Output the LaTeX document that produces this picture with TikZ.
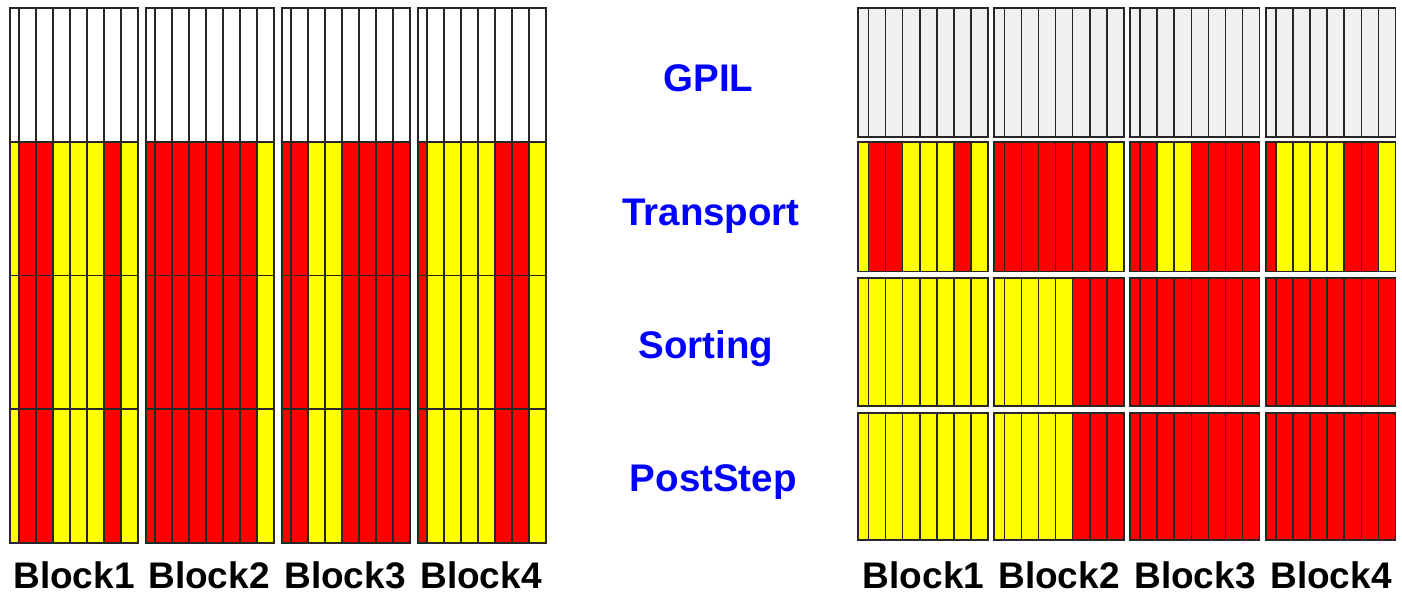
\documentclass[tikz,border=0pt]{standalone}
\usepackage{fontspec}
\setmainfont{Liberation Sans}
\definecolor{cR}{HTML}{FF0000}
\definecolor{cY}{HTML}{FFFF00}
\definecolor{cW}{HTML}{FFFFFF}
\definecolor{cG}{HTML}{F0F0F0}
\definecolor{lineC}{HTML}{262626}
\definecolor{stageC}{HTML}{0000FF}

% one row of a block: #1 left x, #2 top y, #3 bottom y,
% #4 width of the narrow first column, #5 width of the other columns, #6 fills
\newcommand\stripeRow[6]{%
  \edef\rowfills{#6}%
  \foreach \c [count=\k from 0] in \rowfills {%
    \pgfmathsetmacro\xa{ifthenelse(\k==0,#1,#1+#4+(\k-1)*#5)}%
    \pgfmathsetmacro\xb{#1+#4+\k*#5}%
    \filldraw[cell, fill=\c] (\xa,#2) rectangle (\xb,#3);
  }%
  \pgfmathsetmacro\xe{#1+#4+7*#5}%
  \draw[cell] (#1,#2) rectangle (\xe,#3);
}

\begin{document}
\begin{tikzpicture}[x=1pt, y=-1pt,
  cell/.style={draw=lineC, line width=1.8pt},
  stage/.style={font=\fontsize{38.5}{46}\selectfont\bfseries, text=stageC, anchor=base, inner sep=0pt},
  blk/.style={font=\fontsize{37}{44}\selectfont\bfseries, text=black, anchor=base, inner sep=0pt}]
\useasboundingbox (0,0) rectangle (1402,594);

% ---------- left panel: one tall column of stacked rows per block ----------
\def\lfw{8.8}\def\lcw{17}
\foreach \bx/\pat [count=\b] in {
    10/{cY,cR,cR,cY,cY,cY,cR,cY},
    146/{cR,cR,cR,cR,cR,cR,cR,cY},
    282/{cR,cR,cY,cY,cR,cR,cR,cR},
    418/{cR,cY,cY,cY,cY,cR,cR,cY}} {
  \stripeRow{\bx}{8}{141.75}{\lfw}{\lcw}{cW,cW,cW,cW,cW,cW,cW,cW}
  \stripeRow{\bx}{141.75}{275.5}{\lfw}{\lcw}{\pat}
  \stripeRow{\bx}{275.5}{409.25}{\lfw}{\lcw}{\pat}
  \stripeRow{\bx}{409.25}{543}{\lfw}{\lcw}{\pat}
}

% ---------- right panel: separated tiles per stage ----------
\def\rfw{10.2}\def\rcw{17.04}
\foreach \bx/\pat/\srt [count=\b] in {
    858.3/{cY,cR,cR,cY,cY,cY,cR,cY}/{cY,cY,cY,cY,cY,cY,cY,cY},
    994.2/{cR,cR,cR,cR,cR,cR,cR,cY}/{cY,cY,cY,cY,cY,cR,cR,cR},
    1130.1/{cR,cR,cY,cY,cR,cR,cR,cR}/{cR,cR,cR,cR,cR,cR,cR,cR},
    1266/{cR,cY,cY,cY,cY,cR,cR,cY}/{cR,cR,cR,cR,cR,cR,cR,cR}} {
  \stripeRow{\bx}{8}{137}{\rfw}{\rcw}{cG,cG,cG,cG,cG,cG,cG,cG}
  \stripeRow{\bx}{141.7}{271.5}{\rfw}{\rcw}{\pat}
  \stripeRow{\bx}{278.3}{406}{\rfw}{\rcw}{\srt}
  \stripeRow{\bx}{413}{540}{\rfw}{\rcw}{\srt}
}

% ---------- stage names ----------
\node[stage] (gpil)      at (708.3,91)  {GPIL};
\node[stage] (transport) at (711,225)   {Transport};
\node[stage] (sorting)   at (706,358)   {Sorting};
\node[stage] (poststep)  at (713.3,491.5) {PostStep};

% ---------- block labels ----------
\node[blk] (lb1) at (74,588.3)  {Block1};
\node[blk] (lb2) at (209,588.3) {Block2};
\node[blk] (lb3) at (345,588.3) {Block3};
\node[blk] (lb4) at (481,588.3) {Block4};
\node[blk] (rb1) at (923.5,588.3)  {Block1};
\node[blk] (rb2) at (1059,588.3)   {Block2};
\node[blk] (rb3) at (1195,588.3)   {Block3};
\node[blk] (rb4) at (1331,588.3)   {Block4};
\end{tikzpicture}
\end{document}
